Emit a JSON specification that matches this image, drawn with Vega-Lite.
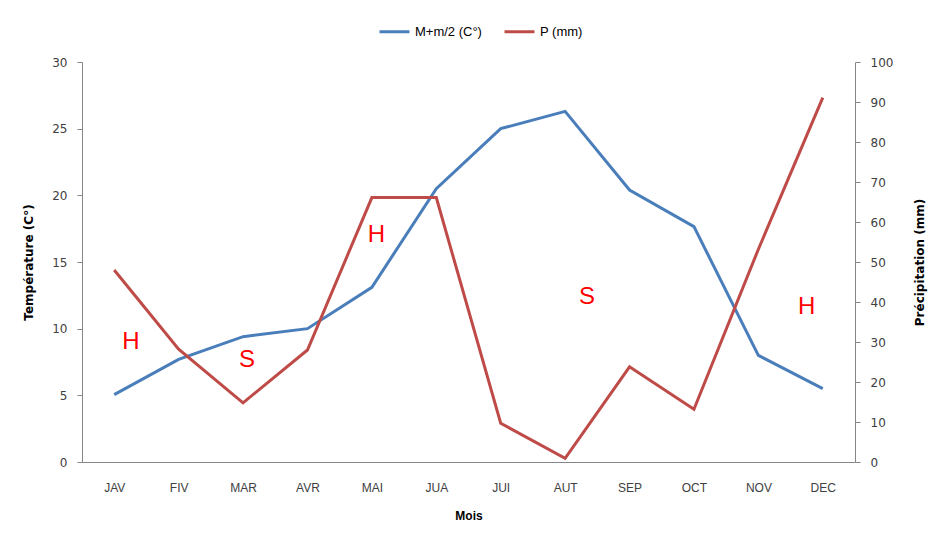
{
  "$schema": "https://vega.github.io/schema/vega-lite/v6.json",
  "width": 773,
  "height": 400,
  "autosize": {"type": "none"},
  "padding": {"left": 82, "top": 62, "right": 93, "bottom": 84},
  "background": "white",
  "config": {
    "view": {"stroke": null},
    "axis": {"grid": false, "domainColor": "#868686", "tickColor": "#868686", "labelColor": "#404040", "titleColor": "#000000"}
  },
  "data": {
    "values": [
      {"mois": "JAV", "m": 1, "temp": 5.05, "precip": 48},
      {"mois": "FIV", "m": 2, "temp": 7.7, "precip": 28.2},
      {"mois": "MAR", "m": 3, "temp": 9.4, "precip": 14.8},
      {"mois": "AVR", "m": 4, "temp": 10.0, "precip": 28},
      {"mois": "MAI", "m": 5, "temp": 13.1, "precip": 66.1},
      {"mois": "JUA", "m": 6, "temp": 20.5, "precip": 66.1},
      {"mois": "JUI", "m": 7, "temp": 25.0, "precip": 9.7},
      {"mois": "AUT", "m": 8, "temp": 26.3, "precip": 0.9},
      {"mois": "SEP", "m": 9, "temp": 20.4, "precip": 23.8},
      {"mois": "OCT", "m": 10, "temp": 17.65, "precip": 13.2},
      {"mois": "NOV", "m": 11, "temp": 8.0, "precip": 53.2},
      {"mois": "DEC", "m": 12, "temp": 5.5, "precip": 91.1}
    ]
  },
  "layer": [
    {
      "mark": {"type": "line", "strokeWidth": 3},
      "encoding": {
        "x": {
          "field": "m", "type": "quantitative",
          "scale": {"domain": [0.5, 12.5], "nice": false, "zero": false},
          "axis": {
            "values": [1, 2, 3, 4, 5, 6, 7, 8, 9, 10, 11, 12],
            "labelExpr": "['JAV','FIV','MAR','AVR','MAI','JUA','JUI','AUT','SEP','OCT','NOV','DEC'][datum.value - 1]",
            "ticks": false,
            "labelPadding": 20,
            "labelFont": "Liberation Sans",
            "labelFontSize": 12,
            "title": "Mois",
            "titleFont": "Liberation Sans",
            "titleFontSize": 12,
            "titleFontWeight": "bold",
            "titlePadding": 17
          }
        },
        "y": {
          "field": "temp", "type": "quantitative",
          "scale": {"domain": [0, 30], "nice": false},
          "axis": {
            "values": [0, 5, 10, 15, 20, 25, 30],
            "tickSize": 5,
            "labelPadding": 10,
            "labelFont": "DejaVu Sans",
            "labelFontSize": 12,
            "title": "Température (C°)",
            "titleFont": "DejaVu Sans",
            "titleFontSize": 12,
            "titleFontWeight": "bold",
            "titlePadding": 16
          }
        },
        "color": {
          "datum": "M+m/2 (C°)",
          "type": "nominal",
          "scale": {"domain": ["M+m/2 (C°)", "P (mm)"], "range": ["#4A7EBB", "#BE4B48"]},
          "legend": {
            "title": null,
            "orient": "none",
            "direction": "horizontal",
            "legendX": 296,
            "legendY": -47,
            "symbolType": "stroke",
            "symbolStrokeWidth": 3,
            "symbolSize": 900,
            "labelFont": "Liberation Sans",
            "labelFontSize": 13,
            "labelColor": "#000000",
            "columnPadding": 16
          }
        }
      }
    },
    {
      "mark": {"type": "line", "strokeWidth": 3},
      "encoding": {
        "x": {"field": "m", "type": "quantitative"},
        "y": {
          "field": "precip", "type": "quantitative",
          "scale": {"domain": [0, 100], "nice": false},
          "axis": {
            "orient": "right",
            "values": [0, 10, 20, 30, 40, 50, 60, 70, 80, 90, 100],
            "tickSize": 5,
            "labelPadding": 10,
            "labelFont": "DejaVu Sans",
            "labelFontSize": 12,
            "title": "Précipitation (mm)",
            "titleFont": "DejaVu Sans",
            "titleFontSize": 12,
            "titleFontWeight": "bold",
            "titleAngle": 270,
            "titleBaseline": "top",
            "titlePadding": 22
          }
        },
        "color": {"datum": "P (mm)", "type": "nominal"}
      }
    },
    {
      "data": {
        "values": [
          {"texte": "H", "m": 1.26, "t": 9.0},
          {"texte": "S", "m": 3.06, "t": 7.65},
          {"texte": "H", "m": 5.07, "t": 17.0},
          {"texte": "S", "m": 8.34, "t": 12.4},
          {"texte": "H", "m": 11.75, "t": 11.65}
        ]
      },
      "mark": {"type": "text", "font": "Liberation Sans", "fontSize": 24, "color": "#FF0000", "baseline": "middle", "align": "center"},
      "encoding": {
        "x": {"field": "m", "type": "quantitative"},
        "y": {"field": "t", "type": "quantitative", "scale": {"domain": [0, 30], "nice": false}, "axis": null},
        "text": {"field": "texte"}
      }
    }
  ],
  "resolve": {"scale": {"y": "independent"}}
}
